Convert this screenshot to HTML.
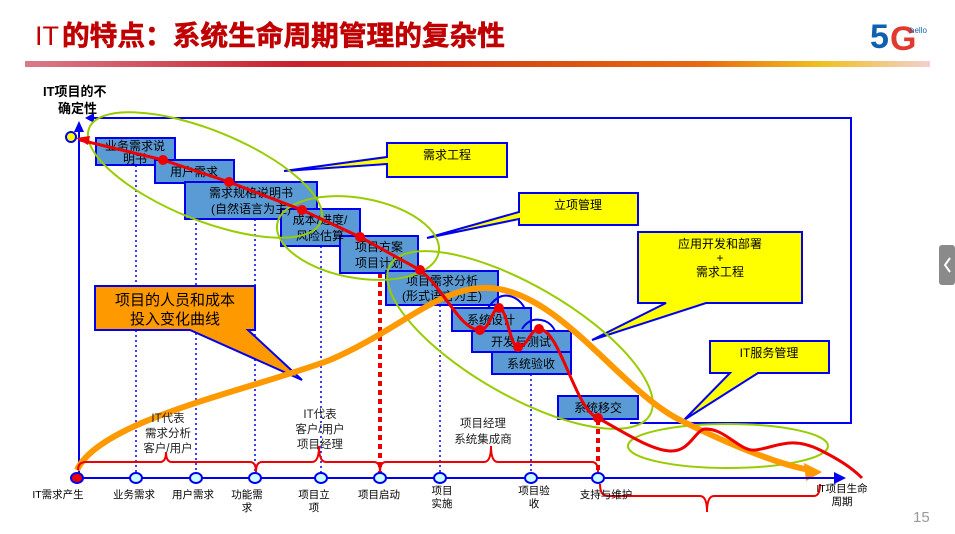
<!DOCTYPE html>
<html><head><meta charset="utf-8"><style>
html,body{margin:0;padding:0;background:#fff;width:955px;height:534px;overflow:hidden}
svg{display:block}
text{font-family:"Liberation Sans","Noto Sans CJK SC",sans-serif}
</style></head><body>
<svg width="955" height="534" viewBox="0 0 955 534" xmlns="http://www.w3.org/2000/svg">
<defs>
<linearGradient id="hd" x1="0" x2="1" y1="0" y2="0">
<stop offset="0" stop-color="#d87a8a"/><stop offset="0.3" stop-color="#c8202a"/><stop offset="0.55" stop-color="#d84a10"/><stop offset="0.75" stop-color="#e86a10"/><stop offset="0.88" stop-color="#f0c020"/><stop offset="1" stop-color="#f3d0d0"/>
</linearGradient>
</defs>
<text x="35" y="45" font-size="27" fill="#c00000" font-family="Liberation Serif,serif">IT</text>
<text x="62" y="45" font-size="27.5" font-weight="bold" fill="#c00000" stroke="#c00000" stroke-width="0.6" textLength="443" lengthAdjust="spacingAndGlyphs" font-family="Noto Sans CJK SC,sans-serif">的特点：系统生命周期管理的复杂性</text>
<rect x="25" y="61" width="905" height="6" fill="url(#hd)"/>
<text x="870" y="48" font-size="34" font-weight="bold" fill="#1060b0" font-family="Liberation Sans,sans-serif">5</text>
<text x="890" y="50" font-size="34" font-weight="bold" fill="#e03a30" font-family="Liberation Sans,sans-serif">G</text>
<text x="910" y="33" font-size="8" fill="#1060b0">hello</text>
<rect x="939" y="245" width="16" height="40" rx="3" fill="#8a8a8a"/>
<path d="M950 258 L945 265 L950 272" stroke="#fff" stroke-width="2" fill="none"/>
<text x="913" y="522" font-size="15" fill="#999">15</text>
<text x="43" y="96" font-size="13" font-weight="bold" fill="#000">IT项目的不</text>
<text x="58" y="113" font-size="13" font-weight="bold" fill="#000">确定性</text>

<path d="M88 118 L851 118 L851 423 L630 423" stroke="#0000ee" stroke-width="2" fill="none"/>
<path d="M85 118 L94 113 L94 123 Z" fill="#0000ee"/>
<line x1="79" y1="478" x2="79" y2="128" stroke="#0000ee" stroke-width="2"/>
<path d="M79 121 L74 132 L84 132 Z" fill="#0000ee"/>

<g stroke="#0000ee" stroke-width="1.5" stroke-dasharray="2,3">
<line x1="136" y1="165" x2="136" y2="478"/>
<line x1="196" y1="183" x2="196" y2="478"/>
<line x1="255" y1="219" x2="255" y2="478"/>
<line x1="321" y1="246" x2="321" y2="478"/>
<line x1="440" y1="305" x2="440" y2="478"/>
<line x1="531" y1="374" x2="531" y2="478"/>
</g>
<g stroke="#ee0000" stroke-width="4" stroke-dasharray="5,4">
<line x1="380" y1="273" x2="380" y2="478"/>
<line x1="598" y1="420" x2="598" y2="478"/>
</g>

<g fill="#5b9bd5" stroke="#0000ee" stroke-width="2">
<rect x="96" y="138" width="79" height="27"/>
<rect x="155" y="160" width="79" height="23"/>
<rect x="185" y="182" width="132" height="37"/>
<rect x="281" y="209" width="79" height="37"/>
<rect x="340" y="236" width="78" height="37"/>
<rect x="386" y="271" width="112" height="34"/>
<rect x="452" y="308" width="79" height="23"/>
<rect x="472" y="331" width="99" height="21"/>
<rect x="492" y="352" width="79" height="22"/>
<rect x="558" y="396" width="80" height="23"/>
</g>
<g font-size="12" fill="#000" text-anchor="middle">
<text x="135" y="150">业务需求说</text><text x="135" y="163">明书</text>
<text x="194" y="176">用户需求</text>
<text x="251" y="197">需求规格说明书</text><text x="251" y="213">(自然语言为主)</text>
<text x="320" y="224">成本/进度/</text><text x="320" y="240">风险估算</text>
<text x="379" y="251">项目方案</text><text x="379" y="267">项目计划</text>
<text x="442" y="285">项目需求分析</text><text x="442" y="300">(形式语言为主)</text>
<text x="491" y="324">系统设计</text>
<text x="521" y="346">开发与测试</text>
<text x="531" y="368">系统验收</text>
<text x="598" y="412">系统移交</text>
</g>
<path d="M488 308 Q500 290 515 298 Q522 302 525 309" stroke="#0000ee" stroke-width="2" fill="none"/>
<path d="M522 329 Q530 316 545 321 Q552 324 555 331" stroke="#0000ee" stroke-width="2" fill="none"/>

<g fill="#ffff00" stroke="#0000ee" stroke-width="2">
<path d="M387 143 L507 143 L507 177 L387 177 L387 164 L284 171 L387 157 Z"/>
<path d="M519 193 L638 193 L638 225 L519 225 L519 219 L427 238 L519 212 Z"/>
<path d="M638 232 L802 232 L802 303 L706 303 L592 340 L666 303 L638 303 Z"/>
<path d="M710 341 L829 341 L829 373 L758 373 L684 420 L730 373 L710 373 Z"/>
</g>
<path d="M95 286 L255 286 L255 330 L248 330 L302 380 L190 330 L95 330 Z" fill="#ff9900" stroke="#0000ee" stroke-width="2"/>
<g font-size="12" fill="#000" text-anchor="middle">
<text x="447" y="159">需求工程</text>
<text x="578" y="209">立项管理</text>
<text x="720" y="248">应用开发和部署</text>
<text x="720" y="262">+</text>
<text x="720" y="276">需求工程</text>
<text x="769" y="357">IT服务管理</text>
</g>
<text x="175" y="305" font-size="15" fill="#000" text-anchor="middle" font-family="Noto Serif CJK SC,serif">项目的人员和成本</text>
<text x="175" y="324" font-size="15" fill="#000" text-anchor="middle" font-family="Noto Serif CJK SC,serif">投入变化曲线</text>

<g fill="none" stroke="#99cc00" stroke-width="2">
<ellipse cx="205" cy="175" rx="125" ry="45" transform="rotate(22 205 175)"/>
<ellipse cx="358" cy="238" rx="82" ry="40" transform="rotate(10 358 238)"/>
<ellipse cx="520" cy="340" rx="150" ry="55" transform="rotate(30 520 340)"/>
<ellipse cx="728" cy="446" rx="100" ry="22"/>
</g>

<path d="M77 470 C100 420 250 390 330 360 C400 330 440 285 490 288 C560 292 620 390 680 420 C730 445 780 465 810 470" stroke="#ff9900" stroke-width="6" fill="none"/>
<path d="M822 472 L804 463 L806 481 Z" fill="#ff9900"/>

<path d="M80 140 L163 160 L229 182 L302 210 L360 237 L420 270 C445 290 460 330 480 330 C490 330 492 308 499 308 C507 308 510 347 518 347 C528 347 530 329 539 329 C560 329 575 410 598 418 C620 430 650 450 670 451 C690 452 695 430 705 429 C725 428 740 452 755 450 C775 448 790 435 820 450 C840 460 852 468 862 478" stroke="#ee0000" stroke-width="3" fill="none"/>
<path d="M76 138 L90 136 L88 145 Z" fill="#ee0000"/>
<g fill="#ee0000">
<circle cx="163" cy="160" r="5"/><circle cx="229" cy="182" r="5"/><circle cx="302" cy="210" r="5"/>
<circle cx="360" cy="237" r="5"/><circle cx="420" cy="270" r="5"/><circle cx="480" cy="330" r="5"/>
<circle cx="499" cy="308" r="5"/><circle cx="518" cy="347" r="5"/><circle cx="539" cy="329" r="5"/>
<circle cx="598" cy="418" r="5"/>
</g>
<circle cx="71" cy="137" r="5" fill="#ffff00" stroke="#0000ee" stroke-width="2"/>

<g stroke="#ee0000" stroke-width="2" fill="none">
<path d="M78 470 Q78 462 86 462 L160 462 Q166 462 166 452 Q166 462 172 462 L250 462 Q256 462 256 472"/>
<path d="M256 472 Q256 462 262 462 L312 462 Q319 462 319 446 Q319 462 326 462 L374 462 Q380 462 380 472"/>
<path d="M380 472 Q380 462 386 462 L484 462 Q491 462 491 446 Q491 462 498 462 L592 462 Q598 462 598 472"/>
<path d="M600 484 Q600 496 608 496 L700 496 Q707 496 707 512 Q707 496 714 496 L814 496 Q820 496 820 484"/>
</g>

<line x1="77" y1="478" x2="835" y2="478" stroke="#0000ee" stroke-width="2"/>
<path d="M846 478 L834 472 L834 484 Z" fill="#0000ee"/>
<g fill="#ccffff" stroke="#0000ee" stroke-width="2">
<ellipse cx="136" cy="478" rx="6" ry="5"/><ellipse cx="196" cy="478" rx="6" ry="5"/>
<ellipse cx="255" cy="478" rx="6" ry="5"/><ellipse cx="321" cy="478" rx="6" ry="5"/>
<ellipse cx="380" cy="478" rx="6" ry="5"/><ellipse cx="440" cy="478" rx="6" ry="5"/>
<ellipse cx="531" cy="478" rx="6" ry="5"/><ellipse cx="598" cy="478" rx="6" ry="5"/>
</g>
<ellipse cx="77" cy="478" rx="6" ry="5" fill="#ee0000" stroke="#0000ee" stroke-width="2"/>

<g font-size="10.5" fill="#000" text-anchor="middle">
<text x="58" y="498">IT需求产生</text>
<text x="134" y="498">业务需求</text>
<text x="193" y="498">用户需求</text>
<text x="247" y="498">功能需</text><text x="247" y="511">求</text>
<text x="314" y="498">项目立</text><text x="314" y="511">项</text>
<text x="379" y="498">项目启动</text>
<text x="442" y="494">项目</text><text x="442" y="507">实施</text>
<text x="534" y="494">项目验</text><text x="534" y="507">收</text>
<text x="606" y="498">支持与维护</text>
<text x="842" y="492">IT项目生命</text><text x="842" y="505">周期</text>
</g>
<g font-size="11.5" fill="#222" text-anchor="middle">
<text x="168" y="422">IT代表</text><text x="168" y="437">需求分析</text><text x="168" y="452">客户/用户</text>
<text x="320" y="418">IT代表</text><text x="320" y="433">客户/用户</text><text x="320" y="448">项目经理</text>
<text x="483" y="427">项目经理</text><text x="483" y="443">系统集成商</text>
</g>
</svg>
</body></html>
